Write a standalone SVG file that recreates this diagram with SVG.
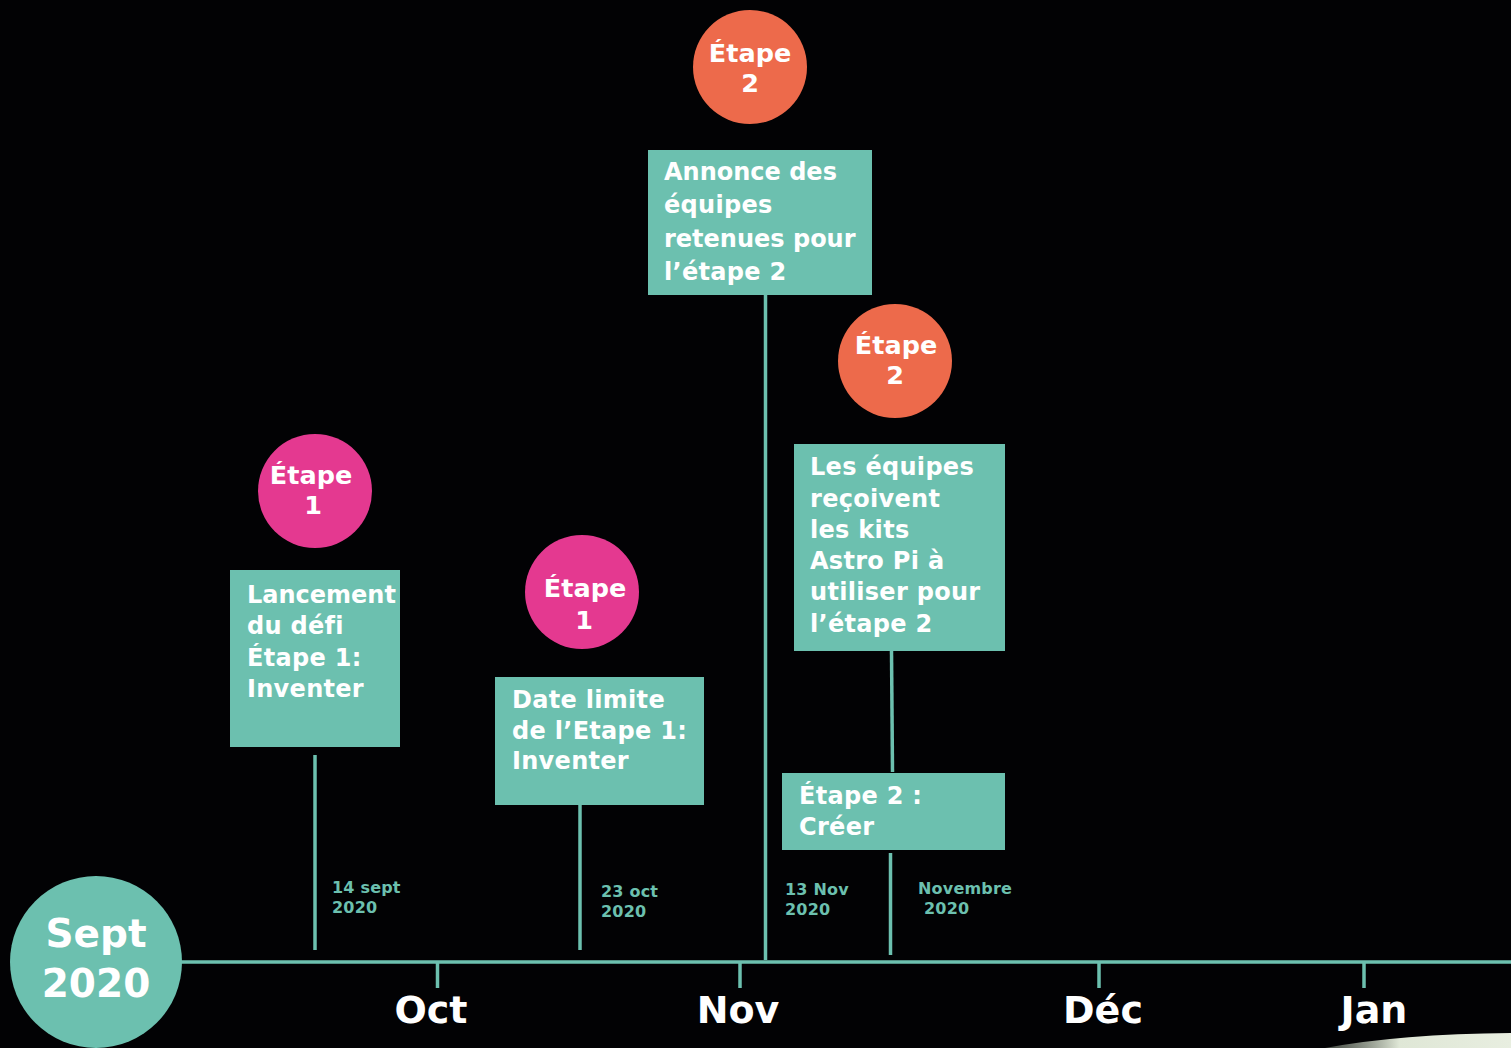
<svg xmlns="http://www.w3.org/2000/svg" width="1511" height="1048" viewBox="0 0 1511 1048">
<defs>
<style>
.txt{font-family:"DejaVu Sans","Verdana",sans-serif;font-weight:bold;fill:#ffffff}
.box{fill:#6cc0af}
.c1{fill:#e43990}
.c2{fill:#ed6a4b}
.ln{stroke:#6cc0af;stroke-width:3.5;fill:none}
.bt{font-size:24px;letter-spacing:0.3px}
.tight{letter-spacing:0px}
.ct{font-size:25.5px;text-anchor:middle}
.mo{font-size:38px;text-anchor:middle}
.dt{font-family:"DejaVu Sans","Verdana",sans-serif;font-weight:bold;fill:#6cc0af;font-size:16px;letter-spacing:0.2px}
</style>
<linearGradient id="earth" x1="0" y1="0" x2="1" y2="0">
<stop offset="0" stop-color="#6f786c" stop-opacity="0.6"/>
<stop offset="0.4" stop-color="#dfe7d6"/>
<stop offset="1" stop-color="#e8eee0"/>
</linearGradient>
</defs>
<rect x="0" y="0" width="1511" height="1048" fill="#020204"/>
<path d="M1325 1048 Q1400 1034 1511 1033 L1511 1048 Z" fill="url(#earth)"/>

<g id="connectors">
<line class="ln" x1="180" y1="962" x2="1511" y2="962" stroke-width="4"/>
<line class="ln" x1="437.5" y1="962" x2="437.5" y2="988"/>
<line class="ln" x1="740" y1="962" x2="740" y2="988"/>
<line class="ln" x1="1099" y1="962" x2="1099" y2="988"/>
<line class="ln" x1="1364" y1="962" x2="1364" y2="988"/>
<line class="ln" x1="315" y1="755" x2="315" y2="950"/>
<line class="ln" x1="580" y1="805" x2="580" y2="950"/>
<line class="ln" x1="765.5" y1="295" x2="765.5" y2="960"/>
<line class="ln" x1="891.5" y1="651" x2="892.5" y2="772"/>
<line class="ln" x1="890.5" y1="853" x2="890.5" y2="955"/>
</g>

<g id="sept">
<circle cx="96" cy="962" r="86" class="box"/>
<text class="txt" x="96" y="947" font-size="39" text-anchor="middle">Sept</text>
<text class="txt" x="96" y="997" font-size="39" text-anchor="middle">2020</text>
</g>

<g id="months">
<text class="txt mo" x="431" y="1023">Oct</text>
<text class="txt mo" x="738" y="1023">Nov</text>
<text class="txt mo" x="1103" y="1023">Déc</text>
<text class="txt mo" x="1374" y="1023">Jan</text>
</g>

<g id="dates">
<text class="dt" x="332" y="893">14 sept</text>
<text class="dt" x="332" y="913">2020</text>
<text class="dt" x="601" y="897">23 oct</text>
<text class="dt" x="601" y="917">2020</text>
<text class="dt" x="785" y="895">13 Nov</text>
<text class="dt" x="785" y="915">2020</text>
<text class="dt" x="918" y="894">Novembre</text>
<text class="dt" x="924" y="914">2020</text>
</g>

<g id="etape1a">
<circle cx="315" cy="491" r="57" class="c1"/>
<text class="txt ct" x="311" y="484">Étape</text>
<text class="txt ct" x="313" y="514">1</text>
</g>
<g id="box-lancement">
<rect x="230" y="570" width="170" height="177" class="box"/>
<text class="txt bt tight" x="247" y="603">Lancement</text>
<text class="txt bt" x="247" y="634">du défi</text>
<text class="txt bt" x="247" y="666">Étape 1:</text>
<text class="txt bt" x="247" y="697">Inventer</text>
</g>

<g id="etape1b">
<circle cx="582" cy="592" r="57" class="c1"/>
<text class="txt ct" x="585" y="597">Étape</text>
<text class="txt ct" x="584" y="629">1</text>
</g>
<g id="box-date-limite">
<rect x="495" y="677" width="209" height="128" class="box"/>
<text class="txt bt" x="512" y="708">Date limite</text>
<text class="txt bt" x="512" y="739">de l’Etape 1:</text>
<text class="txt bt" x="512" y="769">Inventer</text>
</g>

<g id="etape2a">
<circle cx="750" cy="67" r="57" class="c2"/>
<text class="txt ct" x="750" y="62">Étape</text>
<text class="txt ct" x="750" y="92">2</text>
</g>
<g id="box-annonce">
<rect x="648" y="150" width="224" height="145" class="box"/>
<text class="txt bt tight" x="664" y="180">Annonce des</text>
<text class="txt bt" x="664" y="213">équipes</text>
<text class="txt bt tight" x="664" y="247">retenues pour</text>
<text class="txt bt" x="664" y="280">l’étape 2</text>
</g>

<g id="etape2b">
<circle cx="895" cy="361" r="57" class="c2"/>
<text class="txt ct" x="896" y="354">Étape</text>
<text class="txt ct" x="895" y="384">2</text>
</g>
<g id="box-kits">
<rect x="794" y="444" width="211" height="207" class="box"/>
<text class="txt bt" x="810" y="475">Les équipes</text>
<text class="txt bt" x="810" y="507">reçoivent</text>
<text class="txt bt" x="810" y="538">les kits</text>
<text class="txt bt" x="810" y="569">Astro Pi à</text>
<text class="txt bt" x="810" y="600">utiliser pour</text>
<text class="txt bt" x="810" y="632">l’étape 2</text>
</g>

<g id="box-creer">
<rect x="782" y="773" width="223" height="77" class="box"/>
<text class="txt bt" x="799" y="804">Étape 2 :</text>
<text class="txt bt" x="799" y="835">Créer</text>
</g>
</svg>
